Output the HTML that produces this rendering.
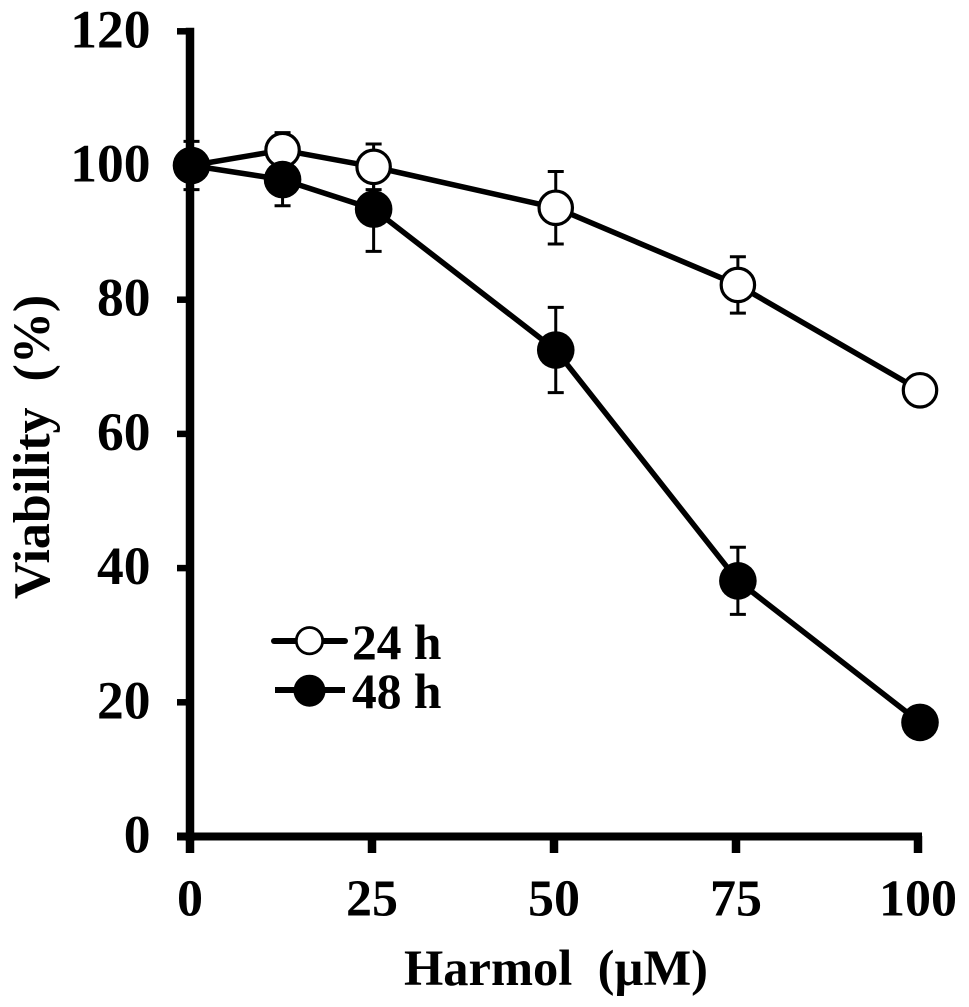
<!DOCTYPE html>
<html>
<head>
<meta charset="utf-8">
<style>
html,body{margin:0;padding:0;background:#fff;}
svg{display:block;}
text{font-family:"Liberation Serif",serif;font-weight:bold;fill:#000;}
</style>
</head>
<body>
<svg id="chart" width="969" height="1007" viewBox="0 0 969 1007" xmlns="http://www.w3.org/2000/svg">
  <text transform="translate(49,447) rotate(-90)" text-anchor="middle" font-size="52" xml:space="preserve">Viability  (%)</text>
  <text x="556" y="985" text-anchor="middle" font-size="50.5" xml:space="preserve">Harmol  (µM)</text>
  <g id="marks"></g>
  <g>
    <line x1="274" y1="641" x2="345" y2="641" stroke="#000" stroke-width="6" stroke-linecap="round"/>
    <circle cx="309.5" cy="640.7" r="13.2" fill="#fff" stroke="#000" stroke-width="2.8"/>
    <text x="352" y="659" font-size="49.5">24 h</text>
    <line x1="275" y1="690" x2="345" y2="690" stroke="#000" stroke-width="6"/>
    <circle cx="309.5" cy="690.7" r="16" fill="#000"/>
    <text x="352" y="708" font-size="49.5">48 h</text>
  </g>
</svg>
<script>
const doses = [0, 12.5, 25, 50, 75, 100];
const xTickLabels = [0, 25, 50, 75, 100];
const yTickLabels = [0, 20, 40, 60, 80, 100, 120];
const viability24h = [100, 102.3, 99.8, 93.7, 82.2, 66.5];
const error24h = [0, 2.6, 3.4, 5.4, 4.2, 0];
const viability48h = [100, 97.9, 93.5, 72.5, 38.1, 17];
const error48h = [3.6, 3.9, 6.3, 6.35, 5, 0];

const NS = 'http://www.w3.org/2000/svg';
const marks = document.getElementById('marks');
const tx = function (v) { return 190 + v * 7.28; };
const sx = function (v) { return 191.5 + v * 7.285; };
const sy = function (v) { return 836.5 - v * 6.71; };

function make(tag, attrs) {
  const el = document.createElementNS(NS, tag);
  Object.keys(attrs).forEach(function (k) { el.setAttribute(k, attrs[k]); });
  marks.appendChild(el);
  return el;
}

function drawLine(values) {
  const pts = values.map(function (v, i) { return sx(doses[i]) + ',' + sy(v); }).join(' ');
  const line = make('polyline', { points: pts, fill: 'none', stroke: '#000', 'stroke-width': 5.5, 'stroke-linejoin': 'round' });
  
  
}

function drawErrors(values, errors) {
  values.forEach(function (v, i) {
    if (errors[i] > 0) {
      const x = sx(doses[i]);
      const top = sy(v + errors[i]);
      const bottom = sy(v - errors[i]);
      const bar = make('path', {
        d: 'M' + (x - 8) + ' ' + top + 'H' + (x + 8) + 'M' + x + ' ' + top + 'V' + bottom + 'M' + (x - 8) + ' ' + bottom + 'H' + (x + 8),
        fill: 'none', stroke: '#000', 'stroke-width': 3
      });
      
      
    }
  });
}

function drawPoints(values, filled) {
  values.forEach(function (v, i) {
    const c = make('circle', filled
      ? { cx: sx(doses[i]), cy: sy(v), r: 18.8, fill: '#000' }
      : { cx: sx(doses[i]), cy: sy(v), r: 16.7, fill: '#fff', stroke: '#000', 'stroke-width': 3.2 });
    
    
  });
}

yTickLabels.forEach(function (t) {
  const tick = make('line', { x1: 177, x2: 190, y1: sy(t), y2: sy(t), stroke: '#000', 'stroke-width': 6.5 });
  
  
  const label = make('text', { x: 150.5, y: sy(t) + 16, 'text-anchor': 'end', 'font-size': 53.5 });
  
  
  label.textContent = t;
});

xTickLabels.forEach(function (t) {
  const tick = make('line', { x1: tx(t), x2: tx(t), y1: 836, y2: 853, stroke: '#000', 'stroke-width': 8.5 });
  
  
  const label = make('text', { x: tx(t), y: 915.5, 'text-anchor': 'middle', 'font-size': 52 });
  
  
  label.textContent = t;
});

const yAxis = make('line', { x1: 190, x2: 190, y1: sy(120) - 3.5, y2: 841, stroke: '#000', 'stroke-width': 8.5 });


const xAxis = make('line', { x1: 177, x2: tx(100) + 4, y1: 836.5, y2: 836.5, stroke: '#000', 'stroke-width': 8 });



drawErrors(viability24h, error24h);
drawErrors(viability48h, error48h);
drawLine(viability24h);
drawLine(viability48h);
drawPoints(viability24h, false);
drawPoints(viability48h, true);
</script>
</body>
</html>
